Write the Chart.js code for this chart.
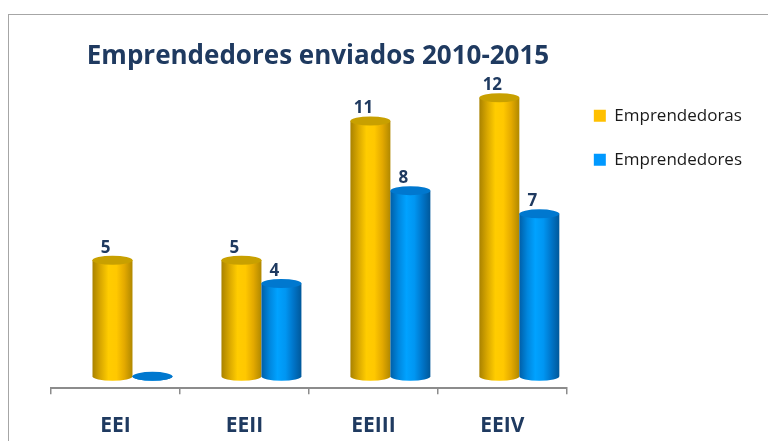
<!DOCTYPE html>
<html>
<head>
<meta charset="utf-8">
<script src="https://cdn.jsdelivr.net/npm/chart.js@4"></script>
<style>
  html, body { margin: 0; padding: 0; background: #fff; }
  #wrap { position: relative; width: 768px; height: 441px; }
</style>
</head>
<body>
<div id="wrap"><canvas id="chart" width="768" height="441"></canvas></div>
<script>
const categories = ['EEI', 'EEII', 'EEIII', 'EEIV'];
const emprendedoras = [5, 5, 11, 12];
const emprendedores = [0, 4, 8, 7];
const seriesNames = ['Emprendedoras', 'Emprendedores'];
const titleText = 'Emprendedores enviados 2010-2015';

const navy = '#1F3A60';
// cylinder colours: [gradient stops, top ellipse]
const cylColors = [
    { stops: ['#A98200', '#D9A800', '#FFCC00', '#FFC800', '#E3A900', '#B08800'], top: '#C8A000' },
    { stops: ['#005FA8', '#0086DD', '#00A2FF', '#0096F2', '#0075C9', '#00589A'], top: '#0078CF' }
];
const depthX = 17, depthY = -8; // fake 3D floor shift

// draws each bar as a cylinder, plus the value labels and the title/frame
const cylinderPlugin = {
    id: 'cylinders',
    beforeDatasetDraw() { return false; },
    afterDatasetsDraw(chart) {
        const ctx = chart.ctx;
        chart.data.datasets.forEach((ds, di) => {
            const meta = chart.getDatasetMeta(di);
            const col = cylColors[di];
            meta.data.forEach((el, i) => {
                const w = el.width;
                const cx = el.x + depthX;
                const x0 = cx - w / 2, x1 = cx + w / 2;
                const yTop = el.y + depthY, yBot = el.base + depthY;
                const rx = w / 2, ry = 4.5;
                const g = ctx.createLinearGradient(x0, 0, x1, 0);
                const n = col.stops.length;
                col.stops.forEach((c, k) => g.addColorStop(k / (n - 1), c));
                ctx.save();
                ctx.beginPath();
                ctx.moveTo(x0, yTop);
                ctx.lineTo(x0, yBot);
                ctx.ellipse(cx, yBot, rx, ry, 0, Math.PI, 0, true);
                ctx.lineTo(x1, yTop);
                ctx.closePath();
                ctx.fillStyle = g;
                ctx.fill();
                ctx.beginPath();
                ctx.ellipse(cx, yTop, rx, ry, 0, 0, Math.PI * 2);
                ctx.fillStyle = col.top;
                ctx.fill();
                // value label
                const v = ds.data[i];
                if (v) {
                    ctx.font = 'bold 17px "Open Sans"';
                    ctx.fillStyle = navy;
                    ctx.textAlign = 'center';
                    ctx.textBaseline = 'alphabetic';
                    ctx.fillText(String(v), cx - 7, yTop - ry - 3);
                }
                ctx.restore();
            });
        });
    },
    afterDraw(chart) {
        const ctx = chart.ctx;
        ctx.save();
        ctx.strokeStyle = '#A6A6A6';
        ctx.lineWidth = 1;
        ctx.strokeRect(8.5, 14.5, 900, 600);
        ctx.font = 'bold 26px "Open Sans"';
        ctx.fillStyle = navy;
        ctx.textAlign = 'center';
        ctx.textBaseline = 'middle';
        ctx.fillText(titleText, 318, 57);
        ctx.restore();
    }
};

const ctx = document.getElementById('chart').getContext('2d');
const chart = new Chart(ctx, {
    type: 'bar',
    data: {
        labels: categories,
        datasets: [
            { label: seriesNames[0], data: emprendedoras, backgroundColor: '#FFC000' },
            { label: seriesNames[1], data: emprendedores, backgroundColor: '#0099FF' }
        ]
    },
    options: {
        responsive: false,
        animation: false,
        categoryPercentage: 0.62,
        barPercentage: 1.0,
        layout: { padding: { left: 51, top: 64, right: 16, bottom: -16.5 } },
        plugins: {
            legend: {
                position: 'right',
                align: 'start',
                title: { display: true, text: '', font: { size: 1 }, padding: { top: 15, bottom: 0 } },
                labels: {
                    boxWidth: 12,
                    boxHeight: 12,
                    padding: 27,
                    color: '#1a1a1a',
                    font: { family: 'Open Sans', size: 17 }
                }
            },
            tooltip: { enabled: false }
        },
        scales: {
            x: {
                offset: true,
                border: { color: '#8C8C8C', width: 2 },
                grid: { display: true, drawOnChartArea: false, offset: true, tickLength: 6, color: '#8C8C8C', lineWidth: 1.5 },
                ticks: { color: navy, padding: 19, font: { family: 'Open Sans', size: 21, weight: 'bold' } }
            },
            y: {
                display: false,
                min: -0.17,
                max: 13.8
            }
        }
    },
    plugins: [cylinderPlugin]
});
</script>
</body>
</html>
